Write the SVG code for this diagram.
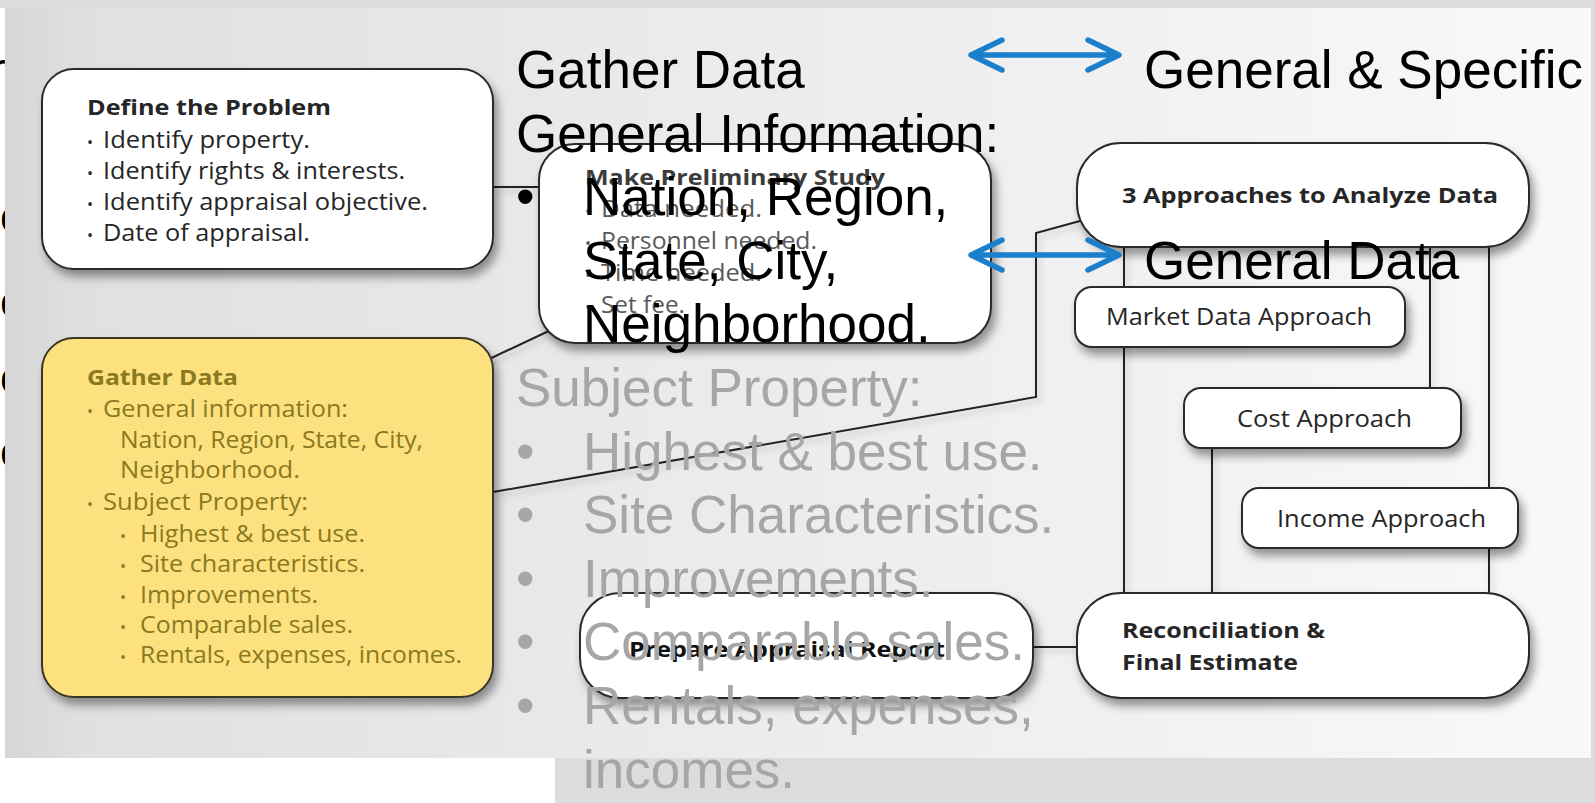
<svg xmlns="http://www.w3.org/2000/svg" width="1595" height="803" viewBox="0 0 1595 803">
  <defs>
    <linearGradient id="paper" x1="0" y1="0" x2="1" y2="0">
      <stop offset="0" stop-color="#d6d6d6"/>
      <stop offset="0.05" stop-color="#e0e0e0"/>
      <stop offset="0.4" stop-color="#eaeaea"/>
      <stop offset="0.75" stop-color="#f2f2f2"/>
      <stop offset="1" stop-color="#f9f9f9"/>
    </linearGradient>
    <filter id="shadow" x="-10%" y="-15%" width="130%" height="150%">
      <feDropShadow dx="4" dy="7" stdDeviation="5" flood-color="#000" flood-opacity="0.4"/>
    </filter>
    <filter id="lineShadow" x="-5%" y="-5%" width="115%" height="115%">
      <feDropShadow dx="3" dy="4" stdDeviation="3" flood-color="#000" flood-opacity="0.2"/>
    </filter>
    <style>
      .box { fill: #ffffff; stroke: #2a2a2a; stroke-width: 2; }
      .yellow { fill: #fde17f; stroke: #3a3626; stroke-width: 2; }
      .bx { font-family: "Open Sans", "Noto Sans", sans-serif; font-size: 23px; fill: #262626; }
      .bd { font-weight: 700; font-size: 22px; }
      .ol { fill: #8a7920; }
      .dim { fill: #5a5a5a; }
      .dot { font-size: 16px; }
      .link { fill: none; stroke: #222; stroke-width: 2; }
      .big { font-family: "Liberation Sans", Arial, sans-serif; font-size: 53px; }
      .blk { fill: #000; }
      .gry { fill: #a6a6a6; }
      .edge { font-family: "Liberation Sans", Arial, sans-serif; font-size: 44px; fill: #000; }
      .arrow { fill: none; stroke: #1b7fcb; stroke-width: 5.5; stroke-linecap: round; stroke-linejoin: round; }
    </style>
  </defs>

  <!-- page -->
  <rect x="0" y="0" width="1595" height="803" fill="#ffffff"/>
  <g id="edge-text">
    <text class="edge" x="-9" y="84">r</text>
    <text class="edge" x="0" y="232">c</text>
    <text class="edge" x="0" y="317">c</text>
    <text class="edge" x="0" y="393">c</text>
    <text class="edge" x="0" y="467">c</text>
  </g>
  <rect x="0" y="0" width="1595" height="8" fill="#dcdcdc"/>
  <rect x="1591" y="0" width="4" height="803" fill="#dcdcdc"/>
  <rect x="555" y="758" width="1040" height="45" fill="#dcdcdc"/>
  <rect x="5" y="8" width="1586" height="750" fill="url(#paper)"/>

  <!-- connectors -->
  <g id="connectors" filter="url(#lineShadow)">
    <path class="link" d="M493,187 H541"/>
    <path class="link" d="M485,361 L553,329"/>
    <path class="link" d="M493,492 L1036,397 V233 L1080,221"/>
    <path class="link" d="M1033,647 H1078"/>
    <path class="link" d="M1124,246 V594"/>
    <path class="link" d="M1430,246 V389"/>
    <path class="link" d="M1489,246 V594"/>
    <path class="link" d="M1212,447 V594"/>
  </g>

  <!-- nodes -->
  <g id="define-problem">
    <rect class="box" x="42" y="69" width="451" height="200" rx="32" filter="url(#shadow)"/>
    <text class="bx bd" x="87" y="115" textLength="244" lengthAdjust="spacingAndGlyphs">Define the Problem</text>
    <text class="bx dot" x="87" y="148">•</text>
    <text class="bx" x="103" y="148" textLength="207" lengthAdjust="spacingAndGlyphs">Identify property.</text>
    <text class="bx dot" x="87" y="179">•</text>
    <text class="bx" x="103" y="179" textLength="302" lengthAdjust="spacingAndGlyphs">Identify rights &amp; interests.</text>
    <text class="bx dot" x="87" y="210">•</text>
    <text class="bx" x="103" y="210" textLength="325" lengthAdjust="spacingAndGlyphs">Identify appraisal objective.</text>
    <text class="bx dot" x="87" y="241">•</text>
    <text class="bx" x="103" y="241" textLength="207" lengthAdjust="spacingAndGlyphs">Date of appraisal.</text>
  </g>

  <g id="preliminary-study">
    <rect class="box" x="539" y="144" width="452" height="199" rx="36" filter="url(#shadow)"/>
    <text class="bx bd" x="585" y="185" style="fill:#3c3c3c" textLength="300" lengthAdjust="spacingAndGlyphs">Make Preliminary Study</text>
    <text class="bx dot dim" x="585" y="217">•</text>
    <text class="bx dim" x="601" y="217" textLength="161" lengthAdjust="spacingAndGlyphs">Data needed.</text>
    <text class="bx dot dim" x="585" y="249">•</text>
    <text class="bx dim" x="601" y="249" textLength="216" lengthAdjust="spacingAndGlyphs">Personnel needed.</text>
    <text class="bx dot dim" x="585" y="281">•</text>
    <text class="bx dim" x="601" y="281" textLength="161" lengthAdjust="spacingAndGlyphs">Time needed.</text>
    <text class="bx dot dim" x="585" y="313">•</text>
    <text class="bx dim" x="601" y="313" textLength="84" lengthAdjust="spacingAndGlyphs">Set fee.</text>
  </g>

  <g id="gather-data">
    <rect class="yellow" x="42" y="338" width="451" height="359" rx="32" filter="url(#shadow)"/>
    <text class="bx bd ol" x="87" y="385" textLength="151" lengthAdjust="spacingAndGlyphs">Gather Data</text>
    <text class="bx dot ol" x="87" y="417">•</text>
    <text class="bx ol" x="103" y="417" textLength="245" lengthAdjust="spacingAndGlyphs">General information:</text>
    <text class="bx ol" x="120" y="448" textLength="303" lengthAdjust="spacingAndGlyphs">Nation, Region, State, City,</text>
    <text class="bx ol" x="120" y="478" textLength="180" lengthAdjust="spacingAndGlyphs">Neighborhood.</text>
    <text class="bx dot ol" x="87" y="510">•</text>
    <text class="bx ol" x="103" y="510" textLength="205" lengthAdjust="spacingAndGlyphs">Subject Property:</text>
    <text class="bx dot ol" x="120" y="542">•</text>
    <text class="bx ol" x="140" y="542" textLength="225" lengthAdjust="spacingAndGlyphs">Highest &amp; best use.</text>
    <text class="bx dot ol" x="120" y="572">•</text>
    <text class="bx ol" x="140" y="572" textLength="225" lengthAdjust="spacingAndGlyphs">Site characteristics.</text>
    <text class="bx dot ol" x="120" y="603">•</text>
    <text class="bx ol" x="140" y="603" textLength="178" lengthAdjust="spacingAndGlyphs">Improvements.</text>
    <text class="bx dot ol" x="120" y="633">•</text>
    <text class="bx ol" x="140" y="633" textLength="213" lengthAdjust="spacingAndGlyphs">Comparable sales.</text>
    <text class="bx dot ol" x="120" y="663">•</text>
    <text class="bx ol" x="140" y="663" textLength="322" lengthAdjust="spacingAndGlyphs">Rentals, expenses, incomes.</text>
  </g>

  <g id="three-approaches">
    <rect class="box" x="1077" y="143" width="452" height="104" rx="44" filter="url(#shadow)"/>
    <text class="bx bd" x="1122" y="203" textLength="376" lengthAdjust="spacingAndGlyphs">3 Approaches to Analyze Data</text>
  </g>

  <g id="market-data">
    <rect class="box" x="1075" y="287" width="330" height="60" rx="17" filter="url(#shadow)"/>
    <text class="bx" x="1106" y="325" textLength="266" lengthAdjust="spacingAndGlyphs">Market Data Approach</text>
  </g>

  <g id="cost">
    <rect class="box" x="1184" y="388" width="277" height="60" rx="17" filter="url(#shadow)"/>
    <text class="bx" x="1237" y="427" textLength="175" lengthAdjust="spacingAndGlyphs">Cost Approach</text>
  </g>

  <g id="income">
    <rect class="box" x="1242" y="488" width="276" height="60" rx="17" filter="url(#shadow)"/>
    <text class="bx" x="1277" y="527" textLength="209" lengthAdjust="spacingAndGlyphs">Income Approach</text>
  </g>

  <g id="reconciliation">
    <rect class="box" x="1077" y="593" width="452" height="105" rx="44" filter="url(#shadow)"/>
    <text class="bx bd" x="1122" y="638" textLength="203" lengthAdjust="spacingAndGlyphs">Reconciliation &amp;</text>
    <text class="bx bd" x="1122" y="670" textLength="176" lengthAdjust="spacingAndGlyphs">Final Estimate</text>
  </g>

  <g id="appraisal-report">
    <rect class="box" x="580" y="593" width="453" height="105" rx="40" filter="url(#shadow)"/>
    <text class="bx bd" x="629" y="657" style="font-size:21px;fill:#111" textLength="316" lengthAdjust="spacingAndGlyphs">Prepare Appraisal Report</text>
  </g>

  <!-- slide text and arrows -->
  <g id="slide-text" class="big">
    <text class="blk" x="516" y="88">Gather Data</text>
    <text class="blk" x="516" y="152">General Information:</text>
    <text class="blk" x="516" y="215">•</text>
    <text class="blk" x="583" y="215">Nation, Region,</text>
    <text class="blk" x="583" y="279">State, City,</text>
    <text class="blk" x="583" y="342">Neighborhood.</text>
    <text class="gry" x="516" y="406">Subject Property:</text>
    <text class="gry" x="516" y="470">•</text>
    <text class="gry" x="583" y="470">Highest &amp; best use.</text>
    <text class="gry" x="516" y="533">•</text>
    <text class="gry" x="583" y="533">Site Characteristics.</text>
    <text class="gry" x="516" y="597">•</text>
    <text class="gry" x="583" y="597">Improvements.</text>
    <text class="gry" x="516" y="660">•</text>
    <text class="gry" x="583" y="660">Comparable sales.</text>
    <text class="gry" x="516" y="724">•</text>
    <text class="gry" x="583" y="724">Rentals, expenses,</text>
    <text class="gry" x="583" y="788">incomes.</text>
    <text class="blk" x="1144" y="88">General &amp; Specific</text>
    <text class="blk" x="1144" y="279">General Data</text>
  </g>

  <g id="arrows">
    <path class="arrow" d="M972,55 H1118 M1002,40 L971,55 L1002,70 M1088,40 L1119,55 L1088,70"/>
    <path class="arrow" d="M972,255 H1118 M1002,240 L971,255 L1002,270 M1088,240 L1119,255 L1088,270"/>
  </g>
</svg>
